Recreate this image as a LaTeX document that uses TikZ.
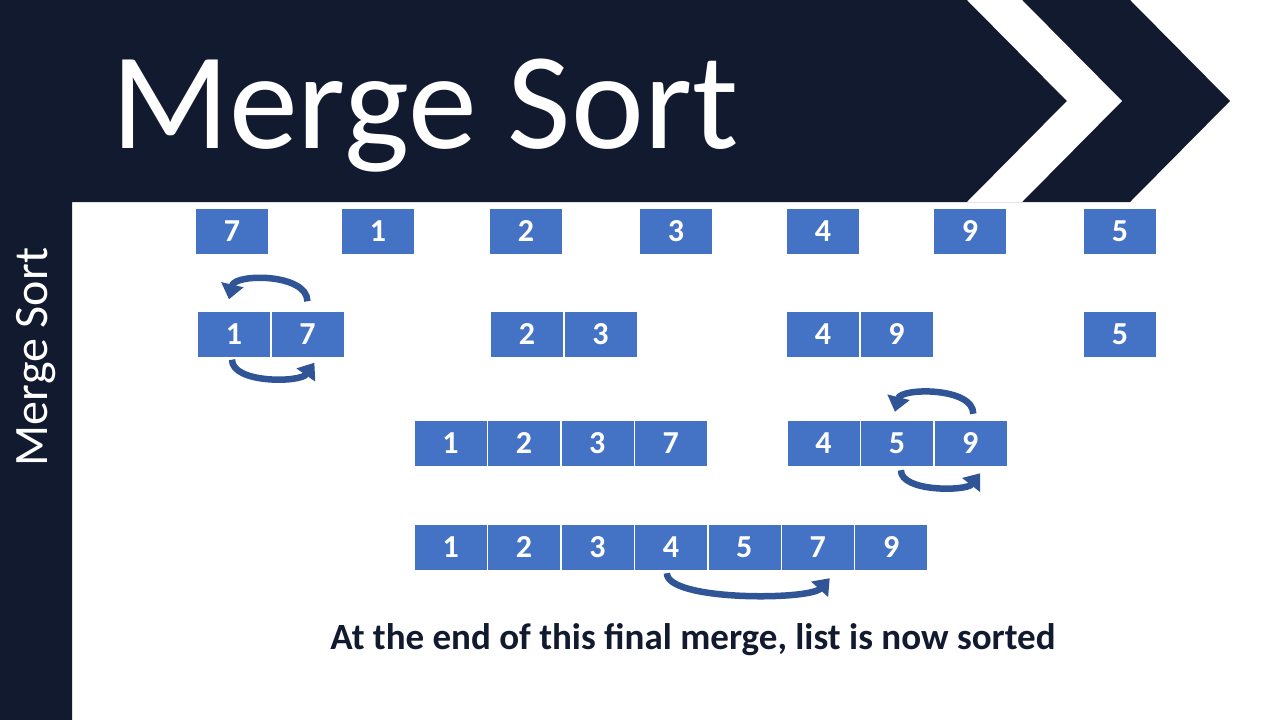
\documentclass[tikz,border=0pt]{standalone}
\usepackage{fontspec}
\setmainfont{Carlito}
\usetikzlibrary{positioning,arrows.meta}
\definecolor{navy}{HTML}{121A2F}
\definecolor{cellblue}{HTML}{4472C4}
\definecolor{arrowblue}{HTML}{2F5597}
\begin{document}
\begin{tikzpicture}[x=1pt,y=-1pt,
        cell/.style={draw=white, fill=cellblue, minimum width=73pt, minimum height=46pt, inner sep=0pt, text=white, font=\fontsize{32}{32}\selectfont\bfseries},
        swaparrow/.style={draw=arrowblue, line width=6.5pt, -{Triangle[length=15pt,width=22pt]}}]
    % background and banner
    \fill[white] (0,0) rectangle (1280,720);
    \fill[navy] (0,0) -- (1130,0) -- (1230,101) -- (1130,202) -- (72,202) -- (72,720) -- (0,720) -- cycle;
    \fill[white] (967,0) -- (1022,0) -- (1122,101) -- (1022,202) -- (967,202) -- (1067,101) -- cycle;
    \useasboundingbox (0,0) rectangle (1280,720);
    \node[anchor=base west, inner sep=0pt, text=white, font=\fontsize{138}{138}\selectfont] (title) at (111,148) {Merge Sort};
    \node[rotate=90, inner sep=0pt, text=white, font=\fontsize{48}{48}\selectfont] (side) at (36,357) {Merge Sort};
    % single elements
    \foreach \v/\x [count=\i] in {7/232,1/378,2/526,3/676,4/823,9/970,5/1120}
        \node[cell] (a\i) at (\x,231.5) {\v};
    % pairs
    \node[cell] (b1) at (234,334.5) {1};
    \node[cell, right=0pt of b1] (b2) {7};
    \node[cell] (b3) at (527,334.5) {2};
    \node[cell, right=0pt of b3] (b4) {3};
    \node[cell] (b5) at (823,334.5) {4};
    \node[cell, right=0pt of b5] (b6) {9};
    \node[cell] (b7) at (1120,334.5) {5};
    % halves
    \node[cell] (c1) at (450.5,443) {1};
    \node[cell, right=0pt of c1] (c2) {2};
    \node[cell, right=0pt of c2] (c3) {3};
    \node[cell, right=0pt of c3] (c4) {7};
    \node[cell] (c5) at (823.5,443) {4};
    \node[cell, right=0pt of c5] (c6) {5};
    \node[cell, right=0pt of c6] (c7) {9};
    % final list
    \node[cell] (d1) at (450.7,547) {1};
    \foreach \v/\i/\j in {2/2/1,3/3/2,4/4/3,5/5/4,7/6/5,9/7/6}
        \node[cell, right=0pt of d\j] (d\i) {\v};
    % swaps
    \draw[swaparrow] ([shift={(0,-10)}]b2.north) .. controls +(0,-28) and +(6,-26) .. ([shift={(-5,-12)}]b1.north);
    \draw[swaparrow] ([shift={(-2,2)}]b1.south) .. controls +(0,24) and +(-14,20) .. ([shift={(7,5)}]b2.south);
    \draw[swaparrow] ([shift={(3,-6)}]c7.north) .. controls +(0,-27) and +(6,-24) .. ([shift={(-2,-8)}]c6.north);
    \draw[swaparrow] ([shift={(4,4)}]c6.south) .. controls +(0,22) and +(-14,18) .. ([shift={(10,7)}]c7.south);
    \draw[swaparrow] ([shift={(-4,3)}]d4.south) .. controls +(0,28) and +(-20,22) .. ([shift={(12,8)}]d6.south);
    \node[font=\fontsize{37}{37}\selectfont\bfseries, text=navy] (note) at (693,640) {At the end of this final merge, list is now sorted};
\end{tikzpicture}
\end{document}
